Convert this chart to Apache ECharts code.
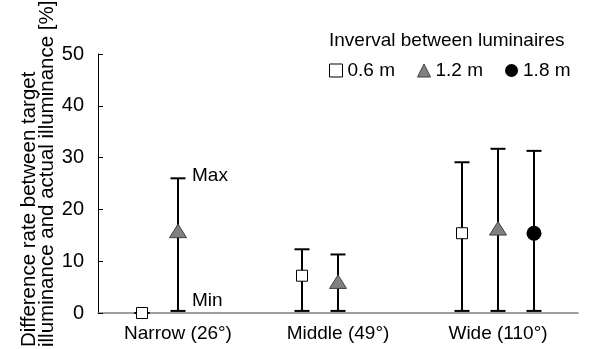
<!DOCTYPE html>
<html lang="en">
<head>
    <meta charset="UTF-8">
    <title>Difference rate chart</title>
    <script src="https://cdn.jsdelivr.net/npm/echarts@6/dist/echarts.min.js"></script>
    <style>
        html, body { margin: 0; padding: 0; background: #fff; }
    </style>
</head>
<body>
<div id="main" style="width: 590px;height:349px;"></div>
<script type="text/javascript">
    // data
    var categories = ['Narrow (26°)', 'Middle (49°)', 'Wide (110°)'];
    var seriesNames = ['0.6 m', '1.2 m', '1.8 m'];
    var yTicks = [0, 10, 20, 30, 40, 50];

    var mean06 = [0, 7.2, 15.4];
    var min06 = [0, 0.4, 0.4];
    var max06 = [0, 12.3, 29.1];

    var mean12 = [15.8, 6.0, 16.3];
    var min12 = [0.4, 0.4, 0.4];
    var max12 = [26.0, 11.3, 31.7];

    var mean18 = [null, null, 15.4];
    var min18 = [null, null, 0.4];
    var max18 = [null, null, 31.3];

    var FONT = '"Liberation Sans", Arial, sans-serif';
    var myChart = echarts.init(document.getElementById('main'));

    function rows(mean, lo, hi) {
        var out = [];
        for (var i = 0; i < mean.length; i++) {
            if (mean[i] === null) continue;
            out.push([i, mean[i], lo[i], hi[i]]);
        }
        return out;
    }

    // marker drawers
    function squareMark(x, y) {
        return {type: 'rect', shape: {x: x - 5.5, y: y - 5.5, width: 11, height: 11},
            style: {fill: '#fff', stroke: '#000', lineWidth: 1}};
    }
    function triMark(x, y) {
        return {type: 'polygon', shape: {points: [[x, y - 7], [x + 8.5, y + 6.5], [x - 8.5, y + 6.5]]},
            style: {fill: '#808080', stroke: '#404040', lineWidth: 1}};
    }
    function circleMark(x, y) {
        return {type: 'circle', shape: {cx: x, cy: y, r: 7.5}, style: {fill: '#000'}};
    }

    function makeRender(frac, mark, notes) {
        return function (params, api) {
            var band = api.size([1, 0])[0];
            var x = api.coord([api.value(0), 0])[0] + band * frac;
            var yMean = api.coord([0, api.value(1)])[1];
            var yLo = api.coord([0, api.value(2)])[1];
            var yHi = api.coord([0, api.value(3)])[1];
            var ls = {stroke: '#000', lineWidth: 2};
            var kids = [
                {type: 'line', shape: {x1: x, y1: yLo, x2: x, y2: yHi}, style: ls},
                {type: 'line', shape: {x1: x - 7.5, y1: yLo, x2: x + 7.5, y2: yLo}, style: ls},
                {type: 'line', shape: {x1: x - 7.5, y1: yHi, x2: x + 7.5, y2: yHi}, style: ls},
                mark(x, yMean)
            ];
            if (notes && params.dataIndex === 0) {
                kids.push({type: 'text', x: x + 14, y: yHi - 3,
                    style: {text: 'Max', font: '19px ' + FONT, fill: '#000', verticalAlign: 'middle'}});
                kids.push({type: 'text', x: x + 14, y: yLo - 10,
                    style: {text: 'Min', font: '19px ' + FONT, fill: '#000', verticalAlign: 'middle'}});
            }
            return {type: 'group', children: kids};
        };
    }

    var option = {
        animation: false,
        textStyle: {fontFamily: FONT},
        title: {
            text: 'Inverval between luminaires',
            left: 329,
            top: 31,
            padding: 0,
            textStyle: {fontSize: 19, fontWeight: 'normal', color: '#000', fontFamily: FONT}
        },
        legend: {
            left: 329,
            top: 61,
            padding: 0,
            itemWidth: 13,
            itemHeight: 13,
            itemGap: 22,
            textStyle: {fontSize: 19, color: '#000', fontFamily: FONT},
            data: [
                {name: seriesNames[0], icon: 'rect', itemStyle: {color: '#fff', borderColor: '#000', borderWidth: 1}},
                {name: seriesNames[1], icon: 'triangle', itemStyle: {color: '#808080', borderColor: '#404040', borderWidth: 1}},
                {name: seriesNames[2], icon: 'circle', itemStyle: {color: '#000'}}
            ]
        },
        graphic: [{
            type: 'text',
            x: 38,
            y: 347,
            rotation: Math.PI / 2,
            style: {
                text: 'Difference rate between target\nilluminance and actual illuminance [%]',
                font: '20.5px ' + FONT,
                fill: '#000',
                align: 'left',
                verticalAlign: 'middle',
                lineHeight: 18
            }
        }],
        grid: {left: 98, right: 12, top: 54, bottom: 36, containLabel: false},
        xAxis: {
            type: 'category',
            data: categories,
            axisLine: {lineStyle: {color: '#808080', width: 1.5}},
            axisTick: {show: false},
            axisLabel: {fontSize: 19, color: '#000', margin: 11, fontFamily: FONT},
            splitLine: {show: false}
        },
        yAxis: {
            type: 'value',
            min: yTicks[0],
            max: yTicks[yTicks.length - 1],
            interval: 10,
            axisLine: {show: true, lineStyle: {color: '#000', width: 1}},
            axisTick: {show: true, inside: true, length: 5, lineStyle: {color: '#000'}},
            axisLabel: {fontSize: 20, color: '#000', margin: 14, fontFamily: FONT},
            splitLine: {show: false}
        },
        series: [
            {name: seriesNames[0], type: 'custom', renderItem: makeRender(-0.225, squareMark, false),
                encode: {x: 0, y: [1, 2, 3]}, data: rows(mean06, min06, max06), z: 3},
            {name: seriesNames[1], type: 'custom', renderItem: makeRender(0, triMark, true),
                encode: {x: 0, y: [1, 2, 3]}, data: rows(mean12, min12, max12), z: 3},
            {name: seriesNames[2], type: 'custom', renderItem: makeRender(0.225, circleMark, false),
                encode: {x: 0, y: [1, 2, 3]}, data: rows(mean18, min18, max18), z: 3}
        ]
    };
    myChart.setOption(option);
</script>
</body>
</html>
